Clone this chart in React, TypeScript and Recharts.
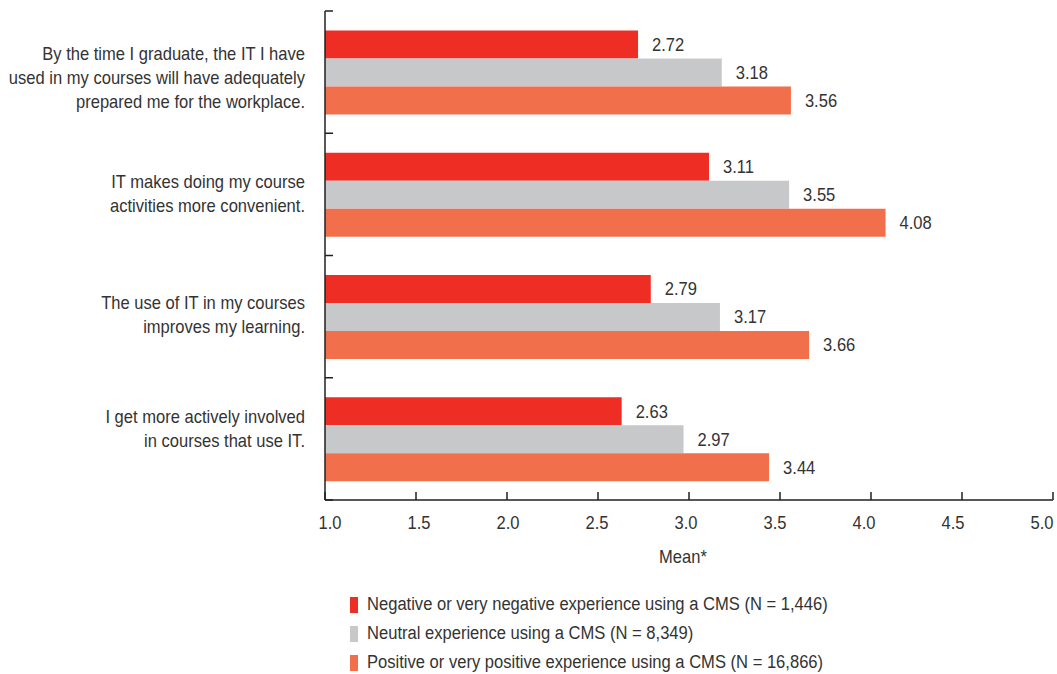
import React from "react";
import { Bar, BarChart, LabelList, XAxis, YAxis } from "recharts";

const statements = [
  "By the time I graduate, the IT I have\nused in my courses will have adequately\nprepared me for the workplace.",
  "IT makes doing my course\nactivities more convenient.",
  "The use of IT in my courses\nimproves my learning.",
  "I get more actively involved\nin courses that use IT.",
];
const negativeMeans = [2.72, 3.11, 2.79, 2.63];
const neutralMeans = [3.18, 3.55, 3.17, 2.97];
const positiveMeans = [3.56, 4.08, 3.66, 3.44];
const meanTicks = [1.0, 1.5, 2.0, 2.5, 3.0, 3.5, 4.0, 4.5, 5.0];

const seriesInfo = [
  { key: "negative", name: "Negative or very negative experience using a CMS (N = 1,446)", color: "#ee2e24" },
  { key: "neutral", name: "Neutral experience using a CMS (N = 8,349)", color: "#c7c8ca" },
  { key: "positive", name: "Positive or very positive experience using a CMS (N = 16,866)", color: "#f26f4b" },
];

const data = statements.map((s, i) => ({
  statement: s,
  negative: negativeMeans[i],
  neutral: neutralMeans[i],
  positive: positiveMeans[i],
}));

// no narrow font installed, so squeeze Liberation Sans horizontally
const FONT = "'Liberation Sans', Arial, sans-serif";
const FS = 18;
const SQUEEZE = 0.92;
const TEXT = "#333333";
const AXIS = "#231f20";

const WIDTH = 1057;
const HEIGHT = 570;
const MARGIN = { top: 11, right: 4, bottom: 0, left: 0 };
const Y_AXIS_W = 325;
const X_AXIS_H = 70;
const BAND = (HEIGHT - MARGIN.top - MARGIN.bottom - X_AXIS_H) / statements.length;
// the statement text isn't exactly centred in each band in the original
const LABEL_NUDGE = [6, -1, -2, -10];

function NarrowText({ x, y, anchor = "start", children }: any) {
  return (
    <text
      transform={`translate(${x},${y}) scale(${SQUEEZE},1)`}
      textAnchor={anchor}
      dy="0.35em"
      fill={TEXT}
      fontSize={FS}
      fontFamily={FONT}
    >
      {children}
    </text>
  );
}

function CategoryTick(props: any) {
  const { x, y, payload, index } = props;
  const lines = String(payload.value).split("\n");
  const lh = 24;
  const axisX = x + 20;
  const startY = y + (LABEL_NUDGE[index] ?? 0) - ((lines.length - 1) * lh) / 2;
  return (
    <g>
      <line x1={axisX} x2={axisX + 8} y1={y - BAND / 2} y2={y - BAND / 2} stroke={AXIS} strokeWidth={1.5} />
      {index === statements.length - 1 && (
        <line x1={axisX} x2={axisX + 8} y1={y + BAND / 2} y2={y + BAND / 2} stroke={AXIS} strokeWidth={1.5} />
      )}
      {lines.map((l, i) => (
        <NarrowText key={i} x={x} y={startY + i * lh} anchor="end">
          {l}
        </NarrowText>
      ))}
    </g>
  );
}

function MeanTick(props: any) {
  const { x, y, payload, index } = props;
  return (
    <g>
      <line x1={x} x2={x} y1={y} y2={y - 8} stroke={AXIS} strokeWidth={1.5} />
      <NarrowText x={x + 5 - 2 * index} y={y + 23} anchor="middle">
        {Number(payload.value).toFixed(1)}
      </NarrowText>
    </g>
  );
}

function ValueLabel(props: any) {
  const { x, y, width, height, value } = props;
  return (
    <NarrowText x={x + width + 14} y={y + height / 2}>
      {Number(value).toFixed(2)}
    </NarrowText>
  );
}

function AxisTitle(props: any) {
  const { viewBox } = props;
  return (
    <NarrowText x={viewBox.x + viewBox.width / 2 - 6} y={557} anchor="middle">
      Mean*
    </NarrowText>
  );
}

export default function App() {
  return (
    <div style={{ position: "absolute", left: 0, top: 0, width: WIDTH, height: 674, background: "#fff" }}>
      <BarChart
        width={WIDTH}
        height={HEIGHT}
        data={data}
        layout="vertical"
        margin={MARGIN}
        barCategoryGap="16%"
        barGap={0}
      >
        <XAxis
          type="number"
          domain={[1, 5]}
          ticks={meanTicks}
          height={X_AXIS_H}
          tickSize={0}
          tickMargin={0}
          tickLine={false}
          axisLine={{ stroke: AXIS, strokeWidth: 1.5 }}
          tick={<MeanTick />}
          label={<AxisTitle />}
        />
        <YAxis
          type="category"
          dataKey="statement"
          width={Y_AXIS_W}
          tickSize={0}
          tickMargin={20}
          tickLine={false}
          axisLine={{ stroke: AXIS, strokeWidth: 1.5 }}
          tick={<CategoryTick />}
          interval={0}
        />
        {seriesInfo.map((s) => (
          <Bar key={s.key} dataKey={s.key} name={s.name} fill={s.color} isAnimationActive={false}>
            <LabelList dataKey={s.key} content={<ValueLabel />} />
          </Bar>
        ))}
      </BarChart>
      <div style={{ position: "absolute", left: 350, top: 590, fontFamily: FONT, fontSize: FS, color: TEXT }}>
        {seriesInfo.map((s) => (
          <div key={s.key} style={{ display: "flex", alignItems: "center", height: 29 }}>
            <span style={{ display: "inline-block", width: 8, height: 16, background: s.color, marginRight: 9 }} />
            <span style={{ display: "inline-block", transform: `scaleX(${SQUEEZE})`, transformOrigin: "left center", whiteSpace: "nowrap" }}>
              {s.name}
            </span>
          </div>
        ))}
      </div>
    </div>
  );
}
